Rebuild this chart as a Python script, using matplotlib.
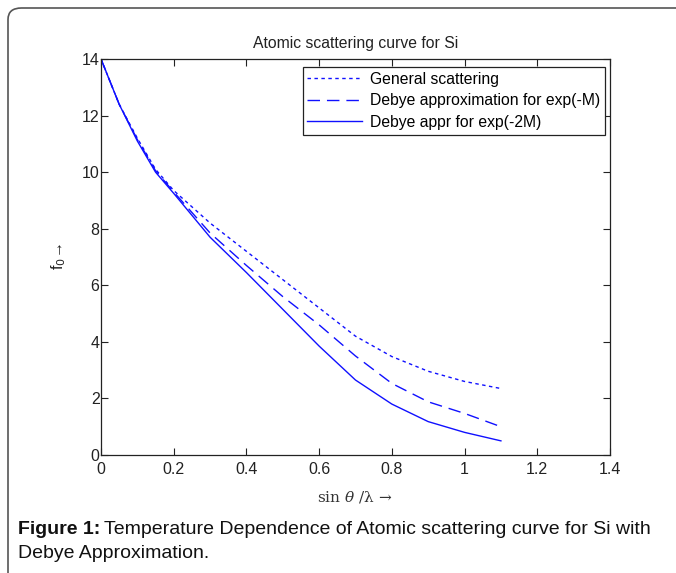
import matplotlib
matplotlib.use("Agg")
import matplotlib.pyplot as plt
from matplotlib.patches import FancyBboxPatch

plt.rcParams['font.family'] = ['Liberation Sans', 'DejaVu Sans']

# data
s = [0, 0.05, 0.1, 0.15, 0.2, 0.3, 0.4, 0.5, 0.6, 0.7, 0.8, 0.9, 1.0, 1.1]
f_general = [14, 12.4, 11.2, 10.1, 9.35, 8.2, 7.2, 6.2, 5.2, 4.2, 3.48, 2.96, 2.6, 2.35]
f_debye_m = [14, 12.4, 11.15, 10.05, 9.3, 7.85, 6.7, 5.6, 4.6, 3.5, 2.53, 1.88, 1.47, 1.0]
f_debye_2m = [14, 12.4, 11.1, 10.0, 9.25, 7.7, 6.45, 5.15, 3.85, 2.65, 1.8, 1.18, 0.8, 0.5]

xticks = [0, 0.2, 0.4, 0.6, 0.8, 1, 1.2, 1.4]
xticklabels = ['0', '0.2', '0.4', '0.6', '0.8', '1', '1.2', '1.4']
yticks = [0, 2, 4, 6, 8, 10, 12, 14]

fig = plt.figure(figsize=(6.76, 5.73), dpi=100)
ax = fig.add_axes([101/676, 1-455/573, 509/676, 396/573])

blue = '#1010ff'
ax.plot(s, f_general, color=blue, lw=1, dashes=(2.5, 2.5), label='General scattering')
ax.plot(s, f_debye_m, color=blue, lw=1, dashes=(9, 5), label='Debye approximation for exp(-M)')
ax.plot(s, f_debye_2m, color=blue, lw=1, label='Debye appr for exp(-2M)')

ax.set_xlim(0, 1.4)
ax.set_ylim(0, 14)
ax.set_xticks(xticks)
ax.set_xticklabels(xticklabels)
ax.set_yticks(yticks)
ax.tick_params(direction='in', top=True, right=True, length=5, width=0.8,
               labelsize=11.5, colors='#222222')
ax.tick_params(axis='x', pad=5)
ax.tick_params(axis='y', pad=1)
for sp in ax.spines.values():
    sp.set_linewidth(0.9)
    sp.set_color('#222222')

ax.set_title('Atomic scattering curve for Si', fontsize=11.3, pad=8, color='#222222')
ax.set_ylabel(r'f$_0$→', fontsize=11.5, labelpad=10, color='#222222',
              math_fontfamily='dejavusans')

leg = ax.legend(loc='upper right', bbox_to_anchor=(0.99, 0.98), fontsize=11.3,
                fancybox=False, edgecolor='#222222', framealpha=1,
                handlelength=3.5, borderpad=0.3, labelspacing=0.42,
                handletextpad=0.5, borderaxespad=0)
leg.get_frame().set_linewidth(0.9)

fig.text(355/676, 1-497/573, r'sin $\theta$ /λ →', family='DejaVu Serif',
         fontsize=11, ha='center', va='center', color='#333333',
         math_fontfamily='dejavuserif')

cap_size = 14.0
bold = fig.text(18/676, 1-530/573, 'Figure 1:', fontsize=cap_size, fontweight='bold',
                ha='left', va='center', color='#111111')
renderer = fig.canvas.get_renderer()
bb = bold.get_window_extent(renderer)
fig.text((bb.x1 + 4) / 676, 1-530/573,
         'Temperature Dependence of Atomic scattering curve for Si with',
         fontsize=cap_size, ha='left', va='center', color='#111111')
fig.text(18/676, 1-554/573, 'Debye Approximation.', fontsize=cap_size,
         ha='left', va='center', color='#111111')

box = FancyBboxPatch((8/676, -0.05), 1.2, 1-8/573 + 0.05,
                     boxstyle='round,pad=0,rounding_size=0.02',
                     transform=fig.transFigure, fill=False,
                     edgecolor='#555555', linewidth=1.2)
fig.patches.append(box)

fig.savefig('out.png', dpi=100)
